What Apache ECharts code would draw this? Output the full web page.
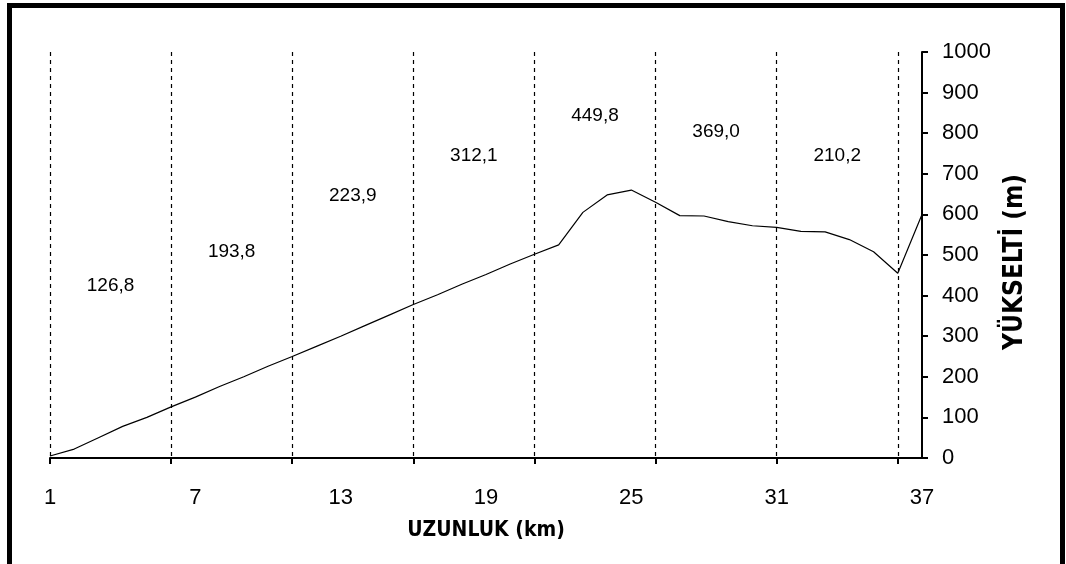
<!DOCTYPE html>
<html><head><meta charset="utf-8">
<script src="https://cdn.jsdelivr.net/npm/echarts@6/dist/echarts.min.js"></script>
<style>html,body{margin:0;padding:0;background:#fff}#c{width:1066px;height:564px}</style>
</head><body><div id="c"></div>
<script>
const categories = ['1','2','3','4','5','6','7','8','9','10','11','12','13','14','15','16','17','18','19','20','21','22','23','24','25','26','27','28','29','30','31','32','33','34','35','36','37'];
const elevation = [5,22,50,78,100,126,150,176,200,226,250,275,300,326,352,378,402,428,452,478,502,525,605,648,660,630,597,596,582,572,568,558,557,538,508,455,600];
const segmentLabels = ['126,8','193,8','223,9','312,1','449,8','369,0','210,2'];
const segmentMid = [2.5,7.5,12.5,17.5,22.5,27.5,32.5];
const labelHeight = [424,507,645,744,842,803,744];
const yTicks = [0,100,200,300,400,500,600,700,800,900,1000];

const axisFont = '"Liberation Sans",Arial,sans-serif';
const nameFont = '"DejaVu Sans Condensed","Liberation Sans",sans-serif';
const chart = echarts.init(document.getElementById('c'));
chart.setOption({
  animation: false,
  backgroundColor: '#fff',
  graphic: [{type:'rect', shape:{x:9.5,y:5.5,width:1053,height:600}, style:{fill:'none', stroke:'#000', lineWidth:5}}],
  grid: {left:50, right:144, top:52, bottom:106},
  xAxis: [{
    type:'category', data: categories, boundaryGap:false,
    axisLine:{lineStyle:{color:'#000', width:2}},
    axisTick:{interval:4, length:6, lineStyle:{color:'#000', width:2}},
    axisLabel:{interval:5, color:'#000', fontFamily:axisFont, fontSize:22, margin:29},
    splitLine:{show:true, interval:4, lineStyle:{color:'#000', type:[4,4], width:1.2}},
    name:'UZUNLUK (km)', nameLocation:'middle', nameGap:62,
    nameTextStyle:{color:'#000', fontFamily:nameFont, fontWeight:'bold', fontSize:21}
  },{
    type:'value', min:0, max:36, show:false
  }],
  yAxis: {
    type:'value', position:'right', min:0, max:1000, interval:100,
    axisLine:{show:true, onZero:false, lineStyle:{color:'#000', width:2}},
    axisTick:{show:true, length:6, lineStyle:{color:'#000', width:2}},
    axisLabel:{color:'#000', fontFamily:axisFont, fontSize:22, margin:20,
      formatter: v => yTicks.includes(v) ? String(v) : ''},
    splitLine:{show:false},
    name:'YÜKSELTİ (m)', nameLocation:'middle', nameGap:76, nameRotate:90,
    nameTextStyle:{color:'#000', fontFamily:nameFont, fontWeight:'bold', fontSize:26, padding:[0,14,0,0]}
  },
  series: [{
    type:'line', data: elevation, symbol:'none',
    lineStyle:{color:'#000', width:1.2}
  },{
    type:'scatter', xAxisIndex:1, symbolSize:0, itemStyle:{opacity:1},
    data: segmentLabels.map((t,i)=>({value:[segmentMid[i], labelHeight[i]], name:t})),
    label:{show:true, position:'inside', formatter: p => p.name, color:'#000', opacity:1,
      fontFamily:'"Liberation Sans",Arial,sans-serif', fontSize:19}
  }]
});
</script></body></html>
